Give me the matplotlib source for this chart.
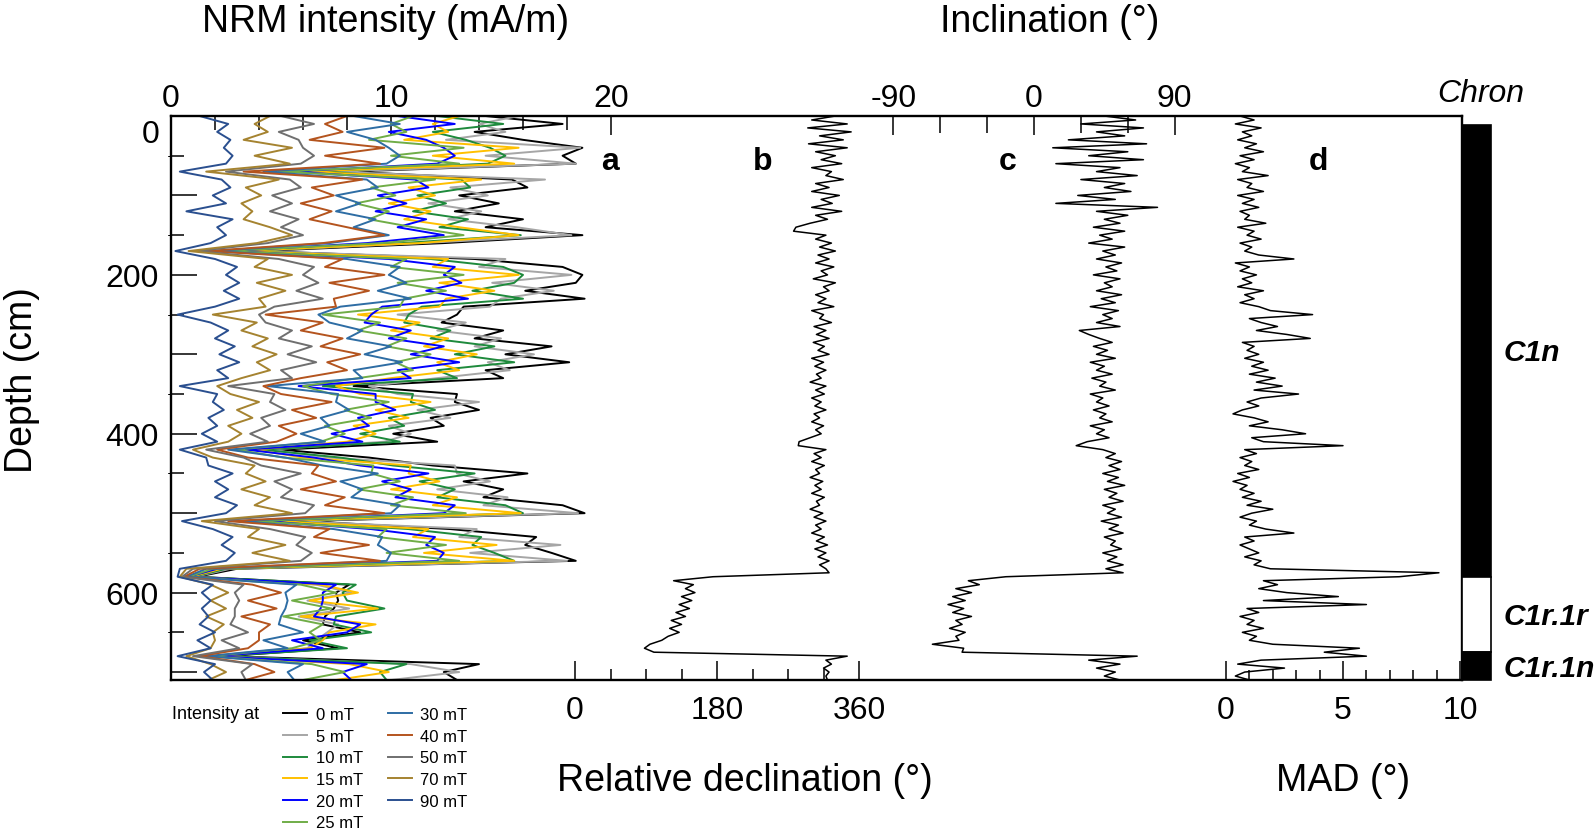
import matplotlib
matplotlib.use('Agg')
from matplotlib import pyplot as plt

plt.rcParams['font.family'] = ['Liberation Sans', 'DejaVu Sans']
plt.rcParams['axes.unicode_minus'] = False

# ---- data -------------------------------------------------------------
# NRM intensity (mA/m) after each AF step, every 10 cm
nrm_depth = list(range(0, 711, 10))
nrm_0 = [14.3, 17.8, 13.8, 16.0, 18.7, 17.8, 18.4, 8.0, 15.5, 16.2,
         13.1, 14.9, 12.9, 16.0, 14.3, 18.7, 12.4, 4.0, 13.8, 17.8,
         18.7, 18.4, 16.1, 18.8, 13.3, 13.0, 12.3, 15.1, 13.8, 17.3,
         15.2, 18.1, 14.3, 15.1, 8.3, 13.0, 12.9, 14.0, 11.8, 12.4,
         10.1, 12.1, 5.0, 9.0, 11.9, 16.2, 13.3, 15.1, 14.2, 17.8,
         18.8, 6.0, 12.7, 16.6, 16.1, 17.3, 18.4, 3.0, 1.2, 8.1,
         7.5, 7.6, 7.4, 7.0, 6.9, 8.6, 6.0, 7.6, 2.5, 14.0,
         12.4, 13.0]
nrm_5 = [15.8, 14.0, 15.2, 12.5, 18.6, 14.3, 18.4, 7.2, 17.0, 12.7,
         14.4, 11.7, 14.1, 12.6, 15.7, 18.2, 11.4, 3.6, 15.2, 14.0,
         18.2, 14.6, 17.4, 15.0, 14.5, 10.3, 13.4, 12.1, 15.0, 13.8,
         16.5, 14.4, 15.4, 12.1, 9.0, 10.3, 14.0, 11.2, 12.7, 9.9,
         10.9, 9.7, 4.5, 7.2, 12.9, 13.0, 14.5, 12.1, 15.3, 14.2,
         18.5, 5.5, 13.9, 13.1, 17.7, 13.6, 18.0, 2.7, 1.1, 6.6,
         8.2, 6.2, 8.1, 5.8, 7.6, 7.1, 6.6, 6.2, 2.3, 10.9,
         13.1, 10.0]
nrm_10 = [12.1, 15.1, 11.9, 13.4, 14.5, 15.2, 14.4, 6.6, 13.2, 13.6,
          11.2, 12.5, 11.0, 13.5, 12.2, 15.9, 10.5, 3.3, 11.8, 15.1,
          16.0, 15.6, 13.7, 16.0, 11.4, 10.8, 10.6, 12.7, 11.8, 14.7,
          12.9, 15.6, 12.1, 13.0, 6.9, 11.0, 10.9, 12.0, 9.9, 10.6,
          8.6, 10.4, 4.1, 7.7, 10.1, 13.8, 11.3, 12.9, 12.1, 15.2,
          16.0, 5.0, 10.8, 14.1, 13.7, 14.7, 15.6, 2.5, 1.0, 8.4,
          7.8, 8.0, 9.7, 7.5, 7.4, 9.1, 6.3, 8.0, 2.2, 10.7,
          9.5, 9.8]
nrm_15 = [13.1, 11.9, 12.6, 10.6, 15.8, 11.9, 15.6, 6.0, 14.1, 10.8,
          12.0, 9.9, 11.8, 10.6, 13.1, 15.8, 11.3, 3.0, 12.6, 11.9,
          15.8, 12.2, 14.7, 12.5, 12.2, 8.5, 11.3, 10.0, 12.6, 11.5,
          13.9, 12.1, 13.1, 10.0, 7.5, 8.6, 11.8, 9.3, 10.8, 8.3,
          9.3, 8.0, 3.8, 6.0, 10.9, 10.8, 12.2, 10.0, 13.0, 11.9,
          15.9, 4.6, 11.7, 11.0, 14.8, 11.5, 15.6, 2.3, 0.9, 6.8,
          8.5, 6.3, 9.4, 5.9, 9.3, 7.2, 6.9, 6.3, 2.1, 8.1,
          9.9, 7.5]
nrm_20 = [10.3, 12.9, 9.9, 11.6, 12.4, 12.9, 12.1, 5.5, 11.1, 11.7,
          9.4, 10.7, 9.3, 11.6, 10.3, 12.4, 8.9, 2.7, 9.9, 12.9,
          12.4, 13.2, 11.6, 13.5, 9.6, 9.1, 8.8, 10.9, 9.9, 12.4,
          10.9, 13.1, 10.3, 10.9, 5.8, 9.3, 9.3, 10.2, 8.5, 9.0,
          7.3, 8.7, 3.4, 6.5, 8.6, 11.7, 9.6, 10.9, 10.2, 12.9,
          12.4, 4.2, 9.1, 12.0, 11.6, 12.4, 12.1, 2.1, 0.8, 7.5,
          6.9, 6.9, 6.8, 6.5, 8.6, 8.0, 5.5, 6.9, 1.9, 8.9,
          7.8, 8.2]
nrm_25 = [11.0, 10.0, 10.7, 9.0, 13.3, 10.0, 13.1, 4.9, 12.0, 9.1,
          10.2, 8.4, 9.9, 9.0, 11.0, 13.3, 9.6, 2.4, 10.7, 10.0,
          13.3, 10.3, 12.5, 10.6, 10.4, 6.9, 9.5, 8.5, 10.7, 9.8,
          11.8, 10.2, 11.0, 8.5, 6.0, 7.3, 9.9, 7.9, 9.1, 7.0,
          7.9, 6.8, 3.0, 5.1, 9.2, 9.1, 10.4, 8.5, 11.0, 10.0,
          13.4, 3.7, 9.8, 9.4, 12.5, 9.8, 13.1, 1.9, 0.8, 5.9,
          7.5, 5.5, 7.3, 5.1, 6.9, 6.3, 6.8, 5.5, 1.8, 6.4,
          7.9, 6.0]
nrm_30 = [8.3, 10.4, 8.0, 9.3, 9.9, 10.4, 9.8, 4.2, 8.9, 9.4,
          7.5, 8.6, 7.5, 9.3, 8.3, 9.9, 7.2, 2.0, 8.0, 10.4,
          9.9, 10.7, 9.4, 10.9, 7.7, 6.7, 7.2, 8.7, 8.0, 10.0,
          8.8, 10.5, 8.3, 8.7, 4.4, 7.6, 7.5, 8.1, 6.8, 7.2,
          5.9, 7.0, 2.6, 5.2, 6.9, 9.4, 7.7, 8.7, 8.2, 10.4,
          10.0, 3.2, 7.4, 9.6, 9.4, 10.0, 9.8, 1.6, 0.7, 5.7,
          5.2, 5.3, 5.2, 5.0, 4.9, 6.0, 4.2, 5.3, 1.6, 6.0,
          5.3, 5.6]
nrm_40 = [8.0, 7.0, 7.8, 6.3, 9.7, 7.0, 9.5, 3.3, 8.7, 6.4,
          7.4, 5.9, 7.3, 6.3, 8.0, 9.7, 6.9, 1.6, 7.8, 7.0,
          9.7, 7.2, 9.0, 7.4, 7.5, 4.3, 6.9, 5.9, 7.8, 6.8,
          8.6, 7.1, 8.0, 5.9, 4.2, 5.0, 7.3, 5.5, 6.6, 4.9,
          5.7, 4.8, 2.1, 3.5, 6.7, 6.4, 7.5, 5.9, 7.9, 7.0,
          9.7, 2.6, 7.2, 6.5, 9.0, 6.8, 9.5, 1.3, 0.6, 3.7,
          5.0, 3.5, 4.8, 3.2, 4.5, 4.0, 4.0, 3.5, 1.3, 3.8,
          4.7, 3.4]
nrm_50 = [5.0, 6.5, 4.9, 5.8, 6.0, 6.5, 5.9, 2.5, 5.4, 5.9,
          4.6, 5.5, 4.5, 5.8, 5.0, 6.0, 4.4, 1.2, 4.9, 6.5,
          6.0, 6.7, 5.7, 6.9, 4.7, 4.0, 4.3, 5.5, 4.9, 6.4,
          5.3, 6.6, 5.0, 5.5, 2.6, 4.7, 4.5, 5.2, 4.1, 4.5,
          3.6, 4.4, 1.6, 3.3, 4.1, 5.9, 4.7, 5.5, 5.0, 6.5,
          6.1, 2.0, 4.5, 6.1, 5.7, 6.4, 5.9, 1.0, 0.5, 3.3,
          2.9, 3.1, 2.9, 2.9, 2.7, 3.5, 2.3, 3.1, 1.0, 3.7,
          3.2, 3.4]
nrm_70 = [4.5, 3.8, 4.4, 3.3, 5.5, 3.8, 5.4, 1.6, 4.9, 3.4,
          4.1, 3.2, 3.7, 3.3, 4.5, 5.5, 3.9, 0.8, 4.4, 3.8,
          5.5, 3.9, 5.2, 4.0, 4.3, 1.9, 3.9, 3.2, 4.4, 3.7,
          4.8, 3.9, 4.5, 3.2, 2.1, 2.7, 4.0, 3.0, 3.7, 2.6,
          3.2, 2.6, 1.0, 1.9, 3.8, 3.4, 4.3, 3.2, 4.5, 3.8,
          5.5, 1.4, 4.0, 3.5, 5.2, 3.7, 5.4, 0.7, 0.4, 1.8,
          2.6, 1.8, 2.5, 1.6, 2.4, 1.9, 2.0, 1.8, 0.7, 1.8,
          2.5, 1.7]
nrm_90 = [1.3, 2.6, 2.1, 2.7, 2.4, 2.8, 2.5, 0.4, 2.3, 2.7,
          1.9, 2.5, 0.7, 2.8, 2.1, 2.5, 1.8, 0.2, 2.0, 3.0,
          2.5, 3.1, 2.4, 3.1, 2.0, 0.3, 1.8, 2.6, 2.0, 2.9,
          2.2, 3.1, 2.1, 2.6, 0.4, 2.1, 1.9, 2.4, 1.7, 2.1,
          1.4, 2.1, 0.4, 1.6, 1.7, 2.8, 2.0, 2.6, 2.0, 3.0,
          2.5, 0.5, 1.9, 2.8, 2.3, 2.9, 2.5, 0.4, 0.3, 1.9,
          1.4, 1.8, 1.4, 1.7, 1.3, 2.0, 1.2, 1.8, 0.3, 2.0,
          1.5, 1.9]

af_steps = ['0 mT', '5 mT', '10 mT', '15 mT', '20 mT', '25 mT',
            '30 mT', '40 mT', '50 mT', '70 mT', '90 mT']
af_colors = ['#000000', '#a6a6a6', '#1e8a3c', '#ffc000', '#0000ff', '#70ad47',
             '#2e6da4', '#b4541e', '#6f6f6f', '#a58330', '#2a4f8f']

# ChRM direction and MAD, every 5 cm
dir_depth = list(range(0, 711, 5))
declination = [330, 300, 345, 295, 350, 310, 340, 296, 345, 305,
               330, 312, 338, 300, 325, 318, 340, 305, 322, 300,
               335, 312, 326, 300, 338, 305, 320, 298, 280, 277,
               318, 305, 325, 310, 330, 308, 322, 305, 328, 312,
               320, 302, 330, 315, 322, 305, 318, 308, 328, 300,
               315, 310, 325, 303, 318, 306, 322, 302, 316, 308,
               322, 300, 315, 304, 318, 306, 312, 298, 318, 305,
               316, 300, 312, 304, 318, 303, 310, 300, 315, 305,
               312, 298, 284, 283, 318, 303, 312, 300, 316, 305,
               310, 298, 314, 304, 312, 300, 316, 306, 310, 298,
               314, 303, 318, 305, 312, 300, 316, 306, 320, 304,
               318, 308, 322, 310, 318, 322, 175, 125, 150, 140,
               152, 135, 148, 132, 145, 128, 140, 122, 135, 120,
               132, 118, 110, 95, 88, 100, 345, 318, 325, 315,
               322, 318, 320]
inclination = [45, 65, 30, 70, 40, 58, 22, 72, 12, 60,
               35, 70, 14, 55, 40, 66, 30, 58, 45, 62,
               28, 52, 14, 79, 40, 60, 45, 55, 38, 58,
               42, 50, 35, 58, 44, 52, 40, 56, 46, 53,
               38, 55, 45, 50, 40, 56, 43, 52, 36, 54,
               44, 50, 40, 55, 29, 35, 42, 50, 38, 47,
               40, 52, 36, 45, 40, 50, 37, 46, 42, 52,
               36, 44, 40, 48, 38, 46, 42, 50, 36, 45,
               40, 48, 34, 27, 44, 52, 46, 56, 48, 55,
               44, 54, 47, 58, 45, 53, 48, 57, 44, 52,
               47, 56, 43, 54, 48, 57, 45, 52, 49, 56,
               44, 53, 47, 57, 46, 57, -18, -42, -35, -50,
               -40, -52, -44, -55, -45, -52, -40, -50, -46, -54,
               -44, -50, -48, -65, -45, -46, 66, 35, 55, 40,
               52, 45, 55]
mad = [0.6, 1.2, 0.4, 1.5, 0.7, 1.1, 0.5, 1.3, 0.8, 1.6,
       0.6, 1.2, 0.4, 1.0, 0.7, 1.8, 0.5, 1.1, 0.9, 1.6,
       0.5, 1.2, 0.7, 1.4, 0.6, 1.0, 0.8, 1.7, 0.5, 1.2,
       0.9, 1.5, 0.6, 1.1, 0.8, 1.4, 2.9, 0.4, 1.0, 0.6,
       1.3, 0.7, 1.1, 0.5, 1.6, 0.8, 1.2, 0.6, 1.4, 1.9,
       3.7, 1.0, 1.5, 2.2, 1.3, 2.6, 3.6, 0.7, 1.2, 0.9,
       1.4, 0.8, 1.6, 1.1, 1.8, 1.0, 2.1, 1.3, 2.4, 1.2,
       3.1, 1.5, 0.9, 1.4, 0.7, 0.3, 1.2, 1.8, 1.0, 2.4,
       3.4, 1.1, 1.6, 5.0, 0.8, 1.3, 0.6, 1.1, 0.8, 1.4,
       0.5, 1.0, 0.3, 0.9, 0.6, 1.2, 0.7, 1.5, 0.9, 2.0,
       1.1, 0.6, 1.3, 1.0, 1.7, 2.9, 0.8, 1.2, 0.6, 1.0,
       1.4, 0.8, 1.5, 1.2, 1.9, 9.1, 7.4, 1.6, 2.2, 1.4,
       2.6, 4.8, 1.6, 6.0, 0.9, 1.4, 0.6, 1.2, 0.9, 1.6,
       0.7, 1.3, 1.0, 2.0, 5.7, 4.2, 6.0, 1.5, 0.5, 2.5,
       0.8, 0.4, 1.0]

# polarity chrons (depth in cm)
chron_names = ['C1n', 'C1r.1r', 'C1r.1n']
chron_top = [11, 580, 675]
chron_base = [580, 675, 710]
chron_colors = ['black', 'white', 'black']

# ---- layout (pixels of a 1594x837 figure) -----------------------------
W, H = 1594, 837
X0, X1, Y0, Y1 = 171, 1462, 117, 681
rect = [X0/W, 1-Y1/H, (X1-X0)/W, (Y1-Y0)/H]

def px_xlim(x_zero, px_per_unit):
    return ((X0-x_zero)/px_per_unit, (X1-x_zero)/px_per_unit)

def overlay(ax_main):
    a = fig.add_axes(rect, sharey=ax_main)
    a.patch.set_visible(False)
    for s in a.spines.values():
        s.set_visible(False)
    a.tick_params(axis='y', left=False, right=False, labelleft=False, labelright=False)
    return a

fig = plt.figure(figsize=(W/100, H/100), dpi=100)

# ---- a: NRM intensity --------------------------------------------------
ax = fig.add_axes(rect)
nrm_all = [nrm_0, nrm_5, nrm_10, nrm_15, nrm_20, nrm_25,
           nrm_30, nrm_40, nrm_50, nrm_70, nrm_90]
handles = []
for vals, c, lab in zip(nrm_all, af_colors, af_steps):
    ln, = ax.plot(vals, nrm_depth, color=c, lw=1.4, label=lab)
    handles.append(ln)
ax.set_xlim(*px_xlim(171, 22.0))
ax.set_ylim(710, 0)
ax.xaxis.set_ticks_position('top')
ax.set_xticks([0, 10, 20])
ax.set_xticks([2, 4, 6, 8, 12, 14, 16, 18], minor=True)
ax.tick_params(axis='x', which='major', direction='in', length=14, width=1.1,
               labelsize=23, pad=2.5)
ax.tick_params(axis='x', which='minor', direction='in', length=10, width=1.1)
ax.set_yticks(list(range(0, 701, 100)))
ax.set_yticklabels(['', '', '200', '', '400', '', '600', ''])
ax.set_yticks(list(range(50, 701, 100)), minor=True)
ax.tick_params(axis='y', which='major', direction='in', length=19, width=1.1,
               labelsize=23, pad=9)
ax.tick_params(axis='y', which='minor', direction='in', length=9.5, width=1.1)
for s in ax.spines.values():
    s.set_linewidth(1.7)
ax.text(-0.009, 23, '0', transform=ax.get_yaxis_transform(),
        ha='right', va='center', fontsize=23)

# ---- b: declination ------------------------------------------------------
ax_d = overlay(ax)
ax_d.plot(declination, dir_depth, color='black', lw=1.1)
ax_d.set_xlim(*px_xlim(575, 0.789))
ax_d.xaxis.set_ticks_position('bottom')
ax_d.set_xticks([0, 180, 360])
ax_d.set_xticks([45, 90, 135, 225, 270, 315], minor=True)
ax_d.tick_params(axis='x', which='major', direction='in', length=13.5, width=1.1,
                 labelsize=23, pad=10.5)
ax_d.tick_params(axis='x', which='minor', direction='in', length=8, width=1.1)

# ---- c: inclination -----------------------------------------------------
ax_i = overlay(ax)
ax_i.plot(inclination, dir_depth, color='black', lw=1.1)
ax_i.set_xlim(*px_xlim(1034, 1.5633))
ax_i.xaxis.set_ticks_position('top')
ax_i.set_xticks([-90, 0, 90])
ax_i.set_xticks([-60, -30, 30, 60], minor=True)
ax_i.tick_params(axis='x', which='major', direction='in', length=14, width=1.1,
                 labelsize=23, pad=2.5)
ax_i.tick_params(axis='x', which='minor', direction='in', length=12, width=1.1)

# ---- d: MAD --------------------------------------------------------------
ax_m = overlay(ax)
ax_m.plot(mad, dir_depth, color='black', lw=1.1)
ax_m.set_xlim(*px_xlim(1226, 23.4))
ax_m.xaxis.set_ticks_position('bottom')
ax_m.set_xticks([0, 5, 10])
ax_m.set_xticks([1, 2, 3, 4, 6, 7, 8, 9], minor=True)
ax_m.tick_params(axis='x', which='major', direction='in', length=13.5, width=1.1,
                 labelsize=23, pad=10.5)
ax_m.tick_params(axis='x', which='minor', direction='in', length=7, width=1.1)

# ---- chron column --------------------------------------------------------
ax_c = fig.add_axes([X1/W, rect[1], 29/W, rect[3]], sharey=ax)
ax_c.axis('off')
ax_c.set_xlim(0, 1)
heights = [b - t for t, b in zip(chron_top, chron_base)]
ax_c.bar(0.5, heights, bottom=chron_top, width=1.0, color=chron_colors,
         edgecolor='black', linewidth=1.2, clip_on=False)
for name, t, b in zip(chron_names, chron_top, chron_base):
    ax_c.text(1.42, (t + b) / 2 + 2, name, transform=ax_c.get_yaxis_transform(),
              ha='left', va='center', fontsize=21.5, fontweight='bold',
              fontstyle='italic')

# ---- text ------------------------------------------------------------------
fig.text(386/W, 1-22/H, 'NRM intensity (mA/m)', ha='center', va='center', fontsize=27)
fig.text(1050/W, 1-22/H, 'Inclination (°)', ha='center', va='center', fontsize=27)
fig.text(745/W, 1-781/H, 'Relative declination (°)', ha='center', va='center', fontsize=27)
fig.text(1343/W, 1-781/H, 'MAD (°)', ha='center', va='center', fontsize=27)
fig.text(22/W, 1-380/H, 'Depth (cm)', ha='center', va='center', rotation=90, fontsize=27)
fig.text(1481/W, 1-94/H, 'Chron', ha='center', va='center', fontsize=23, fontstyle='italic')
for letter, xp in zip(['a', 'b', 'c', 'd'], [610, 763, 1008, 1318]):
    fig.text(xp/W, 1-162/H, letter, ha='center', va='center', fontsize=23,
             fontweight='bold')

fig.text(172/W, 1-715/H, 'Intensity at', ha='left', va='center', fontsize=13)
fig.legend(handles, af_steps, ncol=2, loc='upper left',
           bbox_to_anchor=(283/W, 1-708/H), frameon=False, fontsize=12,
           handlelength=1.45, handletextpad=0.5, columnspacing=1.5,
           labelspacing=0.4, borderpad=0, borderaxespad=0)

fig.savefig('out.png', dpi=100)
